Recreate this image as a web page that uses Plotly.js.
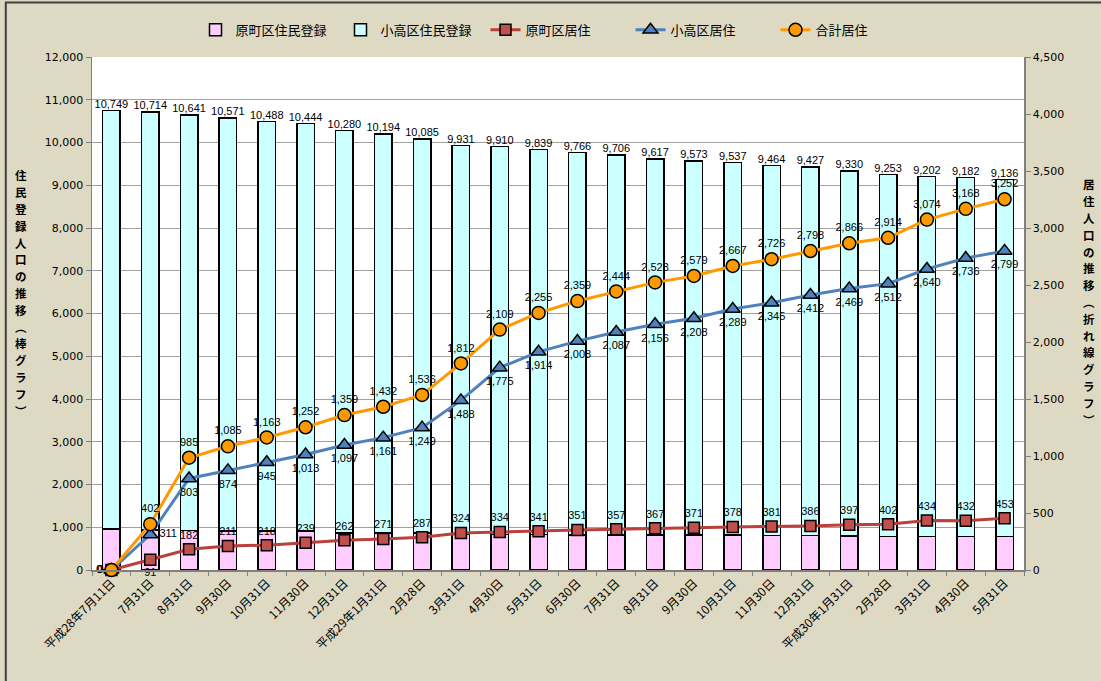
<!DOCTYPE html>
<html>
<head>
<meta charset="utf-8">
<script src="https://cdn.plot.ly/plotly-3.0.1.min.js"></script>
<style>html,body{margin:0;padding:0;background:#DDD9C3;}#chart{width:1101px;height:681px;}</style>
</head>
<body>
<div id="chart"></div>
<script>
// Category tick labels
var dateLabels = ["平成28年7月11日","7月31日","8月31日","9月30日","10月31日","11月30日","12月31日","平成29年1月31日","2月28日","3月31日","4月30日","5月31日","6月30日","7月31日","8月31日","9月30日","10月31日","11月30日","12月31日","平成30年1月31日","2月28日","3月31日","4月30日","5月31日"];
// Total registered population (bar top labels)
var totalRegistered = [10749,10714,10641,10571,10488,10444,10280,10194,10085,9931,9910,9839,9766,9706,9617,9573,9537,9464,9427,9330,9253,9202,9182,9136];
// 原町区住民登録
var haramachiRegistered = [960,940,920,918,917,915,865,862,860,840,830,825,820,818,816,815,814,812,810,790,788,786,785,784];
// 原町区居住
var haramachiResident = [0,91,182,211,218,239,262,271,287,324,334,341,351,357,367,371,378,381,386,397,402,434,432,453];
// 小高区居住
var odakaResident = [0,311,803,874,945,1013,1097,1161,1249,1488,1775,1914,2008,2087,2156,2208,2289,2345,2412,2469,2512,2640,2736,2799];
// 合計居住
var totalResident = [0,402,985,1085,1163,1252,1359,1432,1536,1812,2109,2255,2359,2444,2523,2579,2667,2726,2798,2866,2914,3074,3168,3252];
var leftTitle = "住民登録人口の推移︵棒グラフ︶";
var rightTitle = "居住人口の推移︵折れ線グラフ︶";

var idx = dateLabels.map(function(_, i){ return i; });
var odakaRegistered = totalRegistered.map(function(t, i){ return t - haramachiRegistered[i]; });

var jp = "Noto Sans CJK JP, sans-serif";
var numFont = {family: "Liberation Sans, Arial, sans-serif", size: 11, color: "#000"};

var traces = [
  {type:'bar', name:'原町区住民登録', x: idx, y: haramachiRegistered,
   marker:{color:'#FFCCFF', line:{color:'#000', width:1.5}}, yaxis:'y'},
  {type:'bar', name:'小高区住民登録', x: idx, y: odakaRegistered,
   marker:{color:'#CCFFFF', line:{color:'#000', width:1.5}}, yaxis:'y'},
  {type:'scatter', mode:'text', x: idx, y: totalRegistered, texttemplate:'%{y:,}',
   textposition:'top center', textfont: numFont, showlegend:false, yaxis:'y', cliponaxis:false, hoverinfo:'skip'},
  {type:'scatter', mode:'lines+markers+text', name:'原町区居住', x: idx, y: haramachiResident, yaxis:'y2',
   line:{color:'#B9403D', width:3}, marker:{symbol:'square', size:11, color:'#C0504D', line:{color:'#000', width:1.5}},
   texttemplate:'%{y:,}', textfont: numFont, cliponaxis:false,
   textposition: idx.map(function(i){ return i===0 ? 'middle left' : (i===1 ? 'bottom center' : 'top center'); })},
  {type:'scatter', mode:'lines+markers+text', name:'小高区居住', x: idx, y: odakaResident, yaxis:'y2',
   line:{color:'#4F81BD', width:3}, marker:{symbol:'triangle-up', size:13, color:'#4F81BD', line:{color:'#000', width:1.5}},
   texttemplate:'%{y:,}', textfont: numFont, cliponaxis:false,
   textposition: idx.map(function(i){ return i===0 ? 'middle left' : (i===1 ? 'middle right' : 'bottom center'); })},
  {type:'scatter', mode:'lines+markers+text', name:'合計居住', x: idx, y: totalResident, yaxis:'y2',
   line:{color:'#FF9900', width:3}, marker:{symbol:'circle', size:13, color:'#FF9900', line:{color:'#000', width:1.5}},
   texttemplate:'%{y:,}', textfont: numFont, cliponaxis:false,
   textposition: idx.map(function(i){ return i===0 ? 'middle left' : 'top center'; })}
];

// Vertical (upright) axis titles: one annotation per character
var plotTop = 57, plotBottom = 570, plotH = plotBottom - plotTop;
var plotLeft = 92, plotW = 932;
function verticalTitle(str, pxX, pxCenterY, step, size){
  var chars = Array.from(str);
  var start = pxCenterY - step * (chars.length - 1) / 2;
  return chars.map(function(ch, k){
    return {text: ch, xref:'paper', yref:'paper',
            x: (pxX - plotLeft) / plotW, y: (plotBottom - (start + k * step)) / plotH,
            xanchor:'center', yanchor:'middle', showarrow:false,
            font:{family:jp, size:size, color:'#000', weight:'bold'}};
  });
}
var titleAnns = verticalTitle(leftTitle, 21, 293, 16.8, 11.5)
  .concat(verticalTitle(rightTitle, 1089, 302, 16.8, 11.5));

var layout = {
  width:1101, height:681,
  paper_bgcolor:'#DDD9C3', plot_bgcolor:'#FFFFFF',
  margin:{l:92, r:77, t:57, b:111, autoexpand:false},
  barmode:'stack', bargap:0.55,
  showlegend:true,
  legend:{orientation:'h', x:0.5, xanchor:'center', y:1.053, yanchor:'middle', entrywidth:100,
          font:{family:jp, size:13, color:'#000'}, bgcolor:'rgba(0,0,0,0)', traceorder:'normal'},
  xaxis:{range:[-0.5,23.5], tickmode:'array', tickvals: idx, ticktext: dateLabels, tickangle:-45,
         ticks:'', showgrid:false, zeroline:false, showline:true, linecolor:'#808080', linewidth:1.5,
         tickfont:{family:jp, size:12, color:'#000'},
         minor:{ticks:'outside', ticklen:4, tick0:-0.5, dtick:1, tickcolor:'#808080', showgrid:false}},
  yaxis:{range:[0,12000], dtick:1000, tickformat:',', showgrid:true, gridcolor:'#A0A0A0', gridwidth:1,
         zeroline:false, showline:true, linecolor:'#808080', linewidth:1.5, ticks:'outside', ticklen:5, tickcolor:'#808080',
         tickfont:{family:'DejaVu Sans, sans-serif', size:11, color:'#000'}},
  yaxis2:{range:[0,4500], dtick:500, tickformat:',', overlaying:'y', side:'right', showgrid:false,
          zeroline:false, showline:true, linecolor:'#808080', linewidth:1.5, ticks:'outside', ticklen:5, tickcolor:'#808080',
          tickfont:{family:'DejaVu Sans, sans-serif', size:11, color:'#000'}},
  annotations: titleAnns,
  shapes:[
    {type:'rect', xref:'paper', yref:'paper', x0:-0.0925, x1:1.2, y0:-0.3, y1:1.106,
     line:{color:'#404040', width:2}, fillcolor:'rgba(0,0,0,0)', layer:'below'}
  ]
};

Plotly.newPlot('chart', traces, layout, {displayModeBar:false, staticPlot:true});
</script>
</body>
</html>
